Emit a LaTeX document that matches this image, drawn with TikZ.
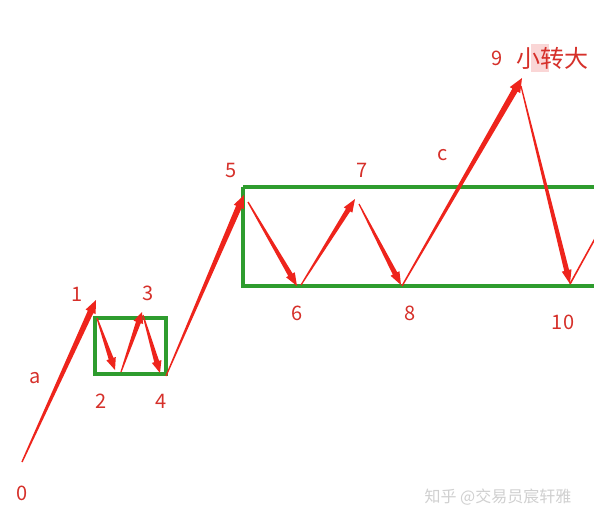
\documentclass[tikz,border=0pt]{standalone}
\usepackage{fontspec}
\setmainfont{Noto Sans CJK SC}
\usetikzlibrary{calc}
\definecolor{arrowred}{RGB}{238,36,28}
\definecolor{labred}{RGB}{214,48,42}
\definecolor{boxgreen}{RGB}{46,156,46}
\definecolor{hipink}{RGB}{250,214,214}
\definecolor{wmgray}{RGB}{208,208,208}
\newcommand\tarrow[6]{%
 \coordinate (tmpN) at ($(#2)!#6!(#1)$);
 \fill[arrowred] ($(#1)!#3!90:(#2)$) -- ($(tmpN)!#4!-90:(#1)$) -- ($(tmpN)!#5!-90:(#1)$) -- (#2) -- ($(tmpN)!#5!90:(#1)$) -- ($(tmpN)!#4!90:(#1)$) -- ($(#1)!#3!-90:(#2)$) -- cycle;}
\tikzset{
 lab/.style={text=labred,font=\fontsize{20}{24}\selectfont,inner sep=0pt},
 gbox/.style={draw=boxgreen,line width=3.2pt},
}
\begin{document}
\begin{tikzpicture}[x=1pt,y=-1pt]
\useasboundingbox[fill=white] (0,0) rectangle (594,525);
% boxes
\draw[gbox] (95,318) rectangle (166,374);
\draw[gbox] (243,187) -- (600,187);
\draw[gbox] (600,286) -- (243,286) -- (243,187);
% coordinates
\coordinate (s1) at (22,462);   \coordinate (t1) at (96,300);
\coordinate (s2) at (97,318);   \coordinate (t2) at (115,370);
\coordinate (s3) at (121,372);  \coordinate (t3) at (142,312);
\coordinate (s4) at (143,315);  \coordinate (t4) at (160,373);
\coordinate (s5) at (166,376);  \coordinate (t5) at (244,195);
\coordinate (s6) at (248,202);  \coordinate (t6) at (297,286);
\coordinate (s7) at (301,285);  \coordinate (t7) at (355,199);
\coordinate (s8) at (359,204);  \coordinate (t8) at (401,285);
\coordinate (s9) at (402,286);  \coordinate (t9) at (522,78);
\coordinate (s10) at (521,86);  \coordinate (t10) at (570,284);
\coordinate (edge) at (597,235);
% arrows
\tarrow{s1}{t1}{0.7pt}{3pt}{5.5pt}{13pt}
\tarrow{s2}{t2}{0.6pt}{2.5pt}{5pt}{12pt}
\tarrow{s3}{t3}{0.6pt}{2.5pt}{5pt}{11pt}
\tarrow{s4}{t4}{0.6pt}{2.5pt}{5pt}{12pt}
\tarrow{s5}{t5}{0.6pt}{3pt}{5.5pt}{13pt}
\tarrow{s6}{t6}{0.7pt}{2.5pt}{5pt}{13pt}
\tarrow{s7}{t7}{0.6pt}{2.5pt}{5pt}{13pt}
\tarrow{s8}{t8}{0.6pt}{2.5pt}{5pt}{13pt}
\tarrow{s9}{t9}{0.7pt}{3pt}{6pt}{14pt}
\tarrow{s10}{t10}{0.6pt}{2.5pt}{5pt}{14pt}
\draw[arrowred,line width=1.6pt] (t10) -- (edge);
% labels
\node[lab] (l0) at (22,493) {0};
\node[lab] (l1) at (77,294) {1};
\node[lab] (l2) at (101,401) {2};
\node[lab] (l3) at (148,293) {3};
\node[lab] (l4) at (161,401) {4};
\node[lab] (l5) at (231,170) {5};
\node[lab] (l6) at (297,313) {6};
\node[lab] (l7) at (362,170) {7};
\node[lab] (l8) at (410,313) {8};
\node[lab] (l10) at (563,322) {10};
\node[lab] (la) at (35,378) {a};
\node[lab] (lc) at (443,155) {c};
\fill[hipink] (531,44) rectangle (549,72);
\node[lab] (l9) at (497,58) {9};
\node[lab,font=\fontsize{24}{28}\selectfont] (big) at (552,58) {小转大};
\node[text=wmgray,font=\fontsize{16}{20}\selectfont,inner sep=0pt] (wm) at (498,497) {知乎 @交易员宸轩雅};
\end{tikzpicture}
\end{document}
